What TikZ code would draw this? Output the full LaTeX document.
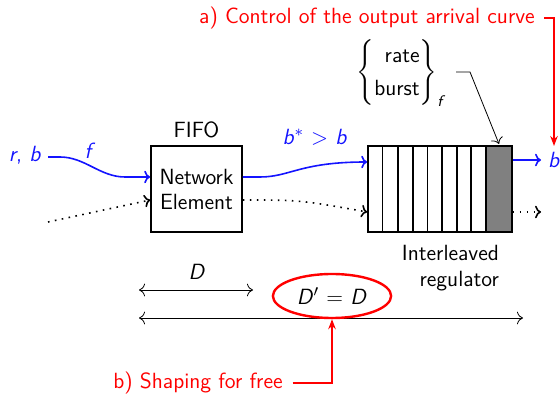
\documentclass[tikz,border=0pt]{standalone}
\usepackage{amsmath}
\usetikzlibrary{arrows.meta,shapes.geometric}
\definecolor{myblue}{RGB}{20,20,255}
\newcommand\mi[1]{\textsl{#1}}
\begin{document}
\begin{tikzpicture}[x=0.5pt,y=-0.5pt,font=\fontsize{11}{13}\selectfont\sffamily,
  box/.style={draw,thick,inner sep=0pt},
  flow/.style={myblue,thick,-{To[length=3pt]}},
  other/.style={dash pattern=on 0.8pt off 2.7pt,thick,-{To[length=3pt]}},
  note/.style={red,thick},
  dim/.style={thin,{To[length=3pt]}-{To[length=3pt]}}]
\useasboundingbox (0,0) rectangle (560,399);
% network element
\node[box,minimum width=45.5pt,minimum height=43pt,align=center,font=\fontsize{11}{12.5}\selectfont\sffamily] (ne) at (196.5,189) {Network\\Element};
\node (fifo) at (196.5,130) {FIFO};
% regulator
\node[box,minimum width=72pt,minimum height=43pt] (reg) at (440,189) {};
\fill[gray] (485.7,146) rectangle (512,232);
\foreach \x in {382.3,397.7,412.7,427.3,442,456.7,471,485.7}
  \draw[thick] (\x,146) -- (\x,232);
\draw[thick] (368,146) rectangle (512,232);
\node[align=right,anchor=east] (reglab) at (506,268) {Interleaved\\regulator};
% inputs
\node[myblue] (rb) at (25,155) {\mi{r}, \mi{b}};
\node[myblue] (flab) at (90,151) {\mi{f}};
\coordinate (in1) at (48,157);
\coordinate (in2) at (48,222);
\draw[flow] (in1) -- (60,157) .. controls (85,157) and (100,177) .. (125,177) -- (ne.west|-0,177);
\draw[other] (in2) -- (ne.west|-0,200);
% middle
\node[myblue] (bstar) at (315,137) {\mi{b}$^*$ $>$ \mi{b}};
\draw[flow] (ne.east|-0,177) -- (260,177) .. controls (290,177) and (300,162) .. (reg.west|-0,162);
\draw[other] (ne.east|-0,200) .. controls (300,200) .. (reg.west|-0,212);
% outputs
\node[myblue] (bout) at (554,160) {\mi{b}};
\coordinate (oend) at (541,212);
\draw[flow] (reg.east|-0,160) -- (bout.west);
\draw[other] (reg.east|-0,212) -- (oend);
% brace
\node[inner sep=0pt] (brace) at (400,73) {\renewcommand\arraystretch{1.25}$\left\{\begin{array}{@{}r@{}}\text{rate}\\ \text{burst}\end{array}\right\}_{\text{\slshape f}}$};
\coordinate (bl) at (456,72);
\coordinate (bt) at (499,144);
\draw[thin,-{To[length=3pt]}] (bl) -- (470,72) -- (bt);
% note a
\node[red,inner sep=1pt] (na) at (367,18) {a) Control of the output arrival curve};
\coordinate (nat) at (554,146);
\draw[note,-{Stealth[length=5pt]}] (na.east) ++(7,0) -- (554,18) -- (nat);
% dims
\coordinate (d1) at (139,290); \coordinate (d2) at (253,290);
\draw[dim] (d1) -- (d2);
\node (dlab) at (197,272) {\mi{D}};
\coordinate (l1) at (139,318); \coordinate (l2) at (523,318);
\draw[dim] (l1) -- (l2);
\node[ellipse,draw=red,very thick,minimum width=59pt,minimum height=22pt] (ell) at (332,296) {\mi{D}$'$ = \mi{D}};
% note b
\node[red] (nb) at (198,383) {b) Shaping for free};
\draw[note,-{Stealth[length=5pt]}] (nb.east) ++(3,0) -- (332,383) -- (ell.south);
\end{tikzpicture}
\end{document}
